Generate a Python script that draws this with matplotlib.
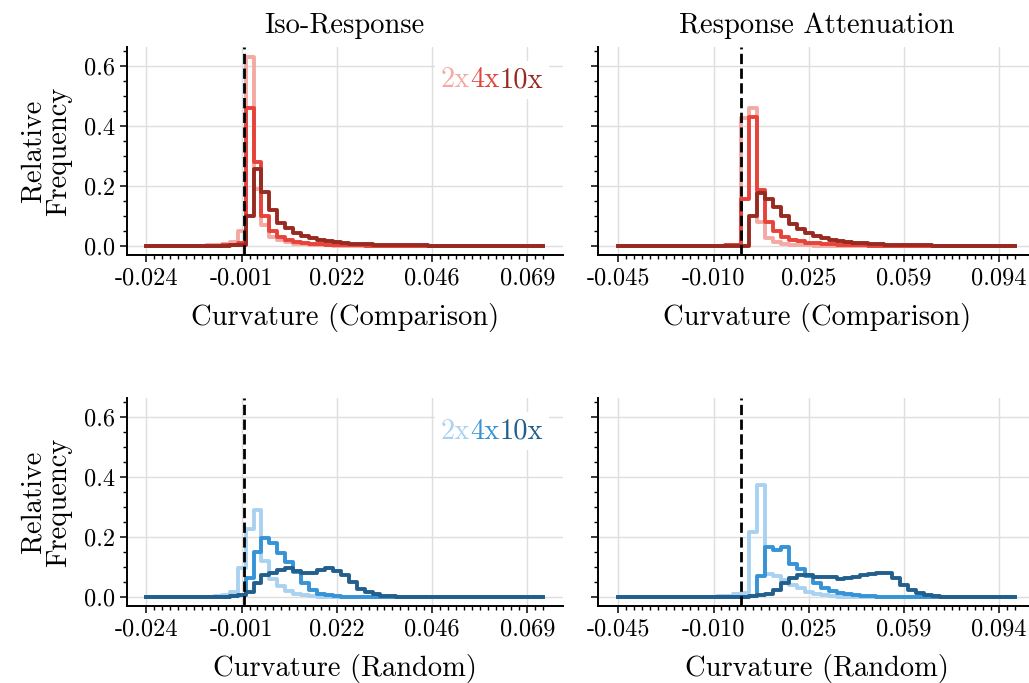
import numpy as np
import matplotlib.pyplot as plt
from matplotlib.ticker import MultipleLocator, FixedLocator

plt.rcParams['font.family'] = 'serif'
plt.rcParams['font.serif'] = ['cmr10']
plt.rcParams['mathtext.fontset'] = 'cm'
plt.rcParams['axes.unicode_minus'] = False
plt.rcParams['axes.formatter.use_mathtext'] = True

# 51 evaluation points per column, first and last curvature value
n_points = 51
x_span_iso = [-0.0240, 0.0731]
x_span_att = [-0.0450, 0.1000]
tick_labels_iso = ['-0.024', '-0.001', '0.022', '0.046', '0.069']
tick_labels_att = ['-0.045', '-0.010', '0.025', '0.059', '0.094']

labels = ['2x', '4x', '10x']
reds = ['#f4aaa4', '#e6433a', '#982a21']
blues = ['#a9d2f0', '#3693d6', '#225f8c']

# relative frequencies: (index of first point, values)
iso_comp_2x = (8, [0.002, 0.004, 0.007, 0.012, 0.05, 0.63, 0.19, 0.07, 0.03, 0.018,
                   0.011, 0.007, 0.005, 0.003, 0.002, 0.001])
iso_comp_4x = (10, [0.002, 0.004, 0.01, 0.46, 0.28, 0.10, 0.05, 0.03, 0.02, 0.014,
                    0.01, 0.007, 0.005, 0.004, 0.003, 0.002, 0.0015, 0.001])
iso_comp_10x = (11, [0.002, 0.004, 0.10, 0.255, 0.18, 0.12, 0.075, 0.058, 0.042, 0.032,
                     0.025, 0.019, 0.015, 0.012, 0.009, 0.007, 0.006, 0.005, 0.004,
                     0.003, 0.0025, 0.002, 0.0015, 0.001, 0.001])

att_comp_2x = (14, [0.002, 0.004, 0.425, 0.458, 0.08, 0.025, 0.012, 0.007, 0.004,
                    0.002, 0.001])
att_comp_4x = (14, [0.001, 0.002, 0.155, 0.428, 0.186, 0.08, 0.05, 0.03, 0.02, 0.015,
                    0.01, 0.008, 0.006, 0.005, 0.004, 0.003, 0.002, 0.0015])
att_comp_10x = (17, [0.1, 0.175, 0.155, 0.13, 0.1, 0.071, 0.055, 0.041, 0.033, 0.025,
                     0.02, 0.016, 0.013, 0.01, 0.008, 0.006, 0.005, 0.004, 0.003,
                     0.0025, 0.002, 0.0015, 0.001])

iso_rand_2x = (9, [0.002, 0.005, 0.017, 0.097, 0.225, 0.289, 0.12, 0.06, 0.035, 0.018,
                   0.01, 0.005, 0.003])
iso_rand_4x = (11, [0.002, 0.005, 0.061, 0.15, 0.195, 0.178, 0.145, 0.117, 0.083,
                    0.045, 0.022, 0.01, 0.005, 0.003])
iso_rand_10x = (11, [0.003, 0.006, 0.017, 0.045, 0.072, 0.078, 0.09, 0.095, 0.085, 0.08,
                     0.08, 0.088, 0.095, 0.087, 0.072, 0.048, 0.027, 0.015, 0.008,
                     0.004, 0.002])

att_rand_2x = (13, [0.002, 0.004, 0.008, 0.012, 0.217, 0.372, 0.075, 0.07, 0.055, 0.04,
                    0.028, 0.016, 0.009, 0.005, 0.003])
att_rand_4x = (17, [0.003, 0.07, 0.167, 0.157, 0.167, 0.11, 0.092, 0.068, 0.045, 0.03,
                    0.02, 0.012, 0.008, 0.005, 0.003, 0.002])
att_rand_10x = (17, [0.003, 0.005, 0.009, 0.022, 0.047, 0.061, 0.072, 0.074, 0.067,
                     0.067, 0.065, 0.058, 0.061, 0.065, 0.072, 0.077, 0.078, 0.078,
                     0.061, 0.039, 0.022, 0.011, 0.005, 0.002])


def full(series):
    start, vals = series
    y = np.zeros(n_points)
    y[start:start + len(vals)] = vals
    return y


panels = [
    (x_span_iso, tick_labels_iso, [iso_comp_2x, iso_comp_4x, iso_comp_10x], reds,
     'Iso-Response', 'Curvature (Comparison)'),
    (x_span_att, tick_labels_att, [att_comp_2x, att_comp_4x, att_comp_10x], reds,
     'Response Attenuation', 'Curvature (Comparison)'),
    (x_span_iso, tick_labels_iso, [iso_rand_2x, iso_rand_4x, iso_rand_10x], blues,
     None, 'Curvature (Random)'),
    (x_span_att, tick_labels_att, [att_rand_2x, att_rand_4x, att_rand_10x], blues,
     None, 'Curvature (Random)'),
]

fig = plt.figure(figsize=(10.29, 6.83), dpi=100)
rects = [[0.1230, 0.6264, 0.4241, 0.3045], [0.5816, 0.6264, 0.4241, 0.3045],
         [0.1230, 0.1124, 0.4241, 0.3045], [0.5816, 0.1124, 0.4241, 0.3045]]

first = None
for i, (span, tlabels, series, colors, title, xlabel) in enumerate(panels):
    ax = fig.add_axes(rects[i], sharey=first)
    if first is None:
        first = ax
    x = np.linspace(span[0], span[1], n_points)
    handles = []
    for s, c, lab in zip(series, colors, labels):
        ln, = ax.plot(x, full(s), drawstyle='steps-mid', color=c, lw=2.8, label=lab)
        handles.append(ln)
    ax.axvline(0, color='k', ls='--', lw=2.0, zorder=5)

    ax.xaxis.set_major_locator(FixedLocator(x[::12][:5]))
    ax.set_xticklabels(tlabels)
    ax.xaxis.set_minor_locator(FixedLocator(x))
    ax.yaxis.set_major_locator(MultipleLocator(0.2))
    ax.yaxis.set_minor_locator(MultipleLocator(0.05))
    ax.grid(True, which='major', color='#dedede', lw=1.0)
    ax.set_axisbelow(True)

    for side in ['top', 'right']:
        ax.spines[side].set_visible(False)
    for side in ['left', 'bottom']:
        ax.spines[side].set_linewidth(1.4)
    ax.tick_params(which='major', length=5, width=1.1, labelsize=17.5, direction='out')
    ax.tick_params(which='minor', length=3, width=1.0, direction='out')

    ax.set_xlabel(xlabel, fontsize=20.5, labelpad=10)
    if title:
        ax.set_title(title, fontsize=20.5, pad=10)
    if i % 2 == 0:
        ax.set_ylabel('Relative\nFrequency', fontsize=20.5, linespacing=1.0, labelpad=8)
        ax.yaxis.set_major_formatter(plt.FormatStrFormatter('%.1f'))
        leg = ax.legend(handles=handles, ncol=3, loc='upper right', handlelength=0,
                        handletextpad=0, columnspacing=0, fontsize=20.5, frameon=True,
                        fancybox=False, framealpha=1, edgecolor='none', borderpad=0.2)
        for txt, c in zip(leg.get_texts(), colors):
            txt.set_color(c)
    else:
        ax.tick_params(axis='y', labelleft=False)

fig.savefig('out.png', dpi=100)
